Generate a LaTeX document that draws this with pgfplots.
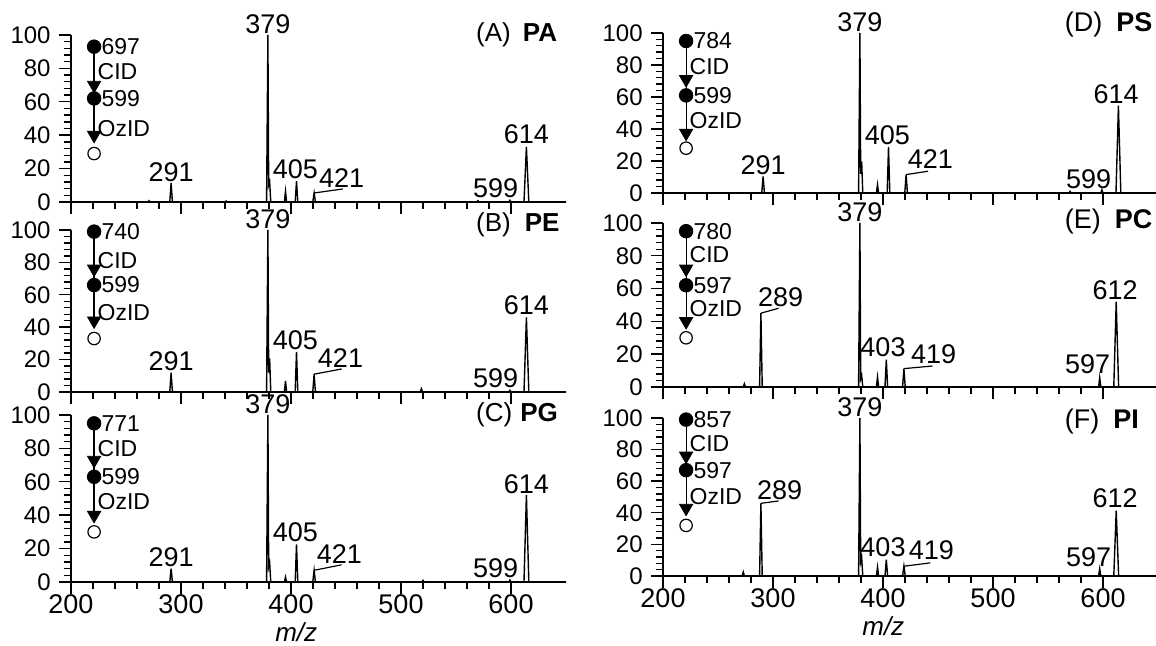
\documentclass[border=0pt]{standalone}
\usepackage{fontspec}
\setmainfont{Liberation Sans}
\usepackage{pgfplots}
\pgfplotsset{compat=1.18}
\tikzset{
  lab/.style={font=\fontsize{13.5}{14}\selectfont, inner sep=0.5pt, anchor=south},
  ann/.style={font=\fontsize{11.5}{12}\selectfont, inner sep=0.5pt, anchor=west},
  plab/.style={font=\fontsize{13}{14}\selectfont, inner sep=0pt, anchor=west},
}
\pgfplotsset{
  spec/.style={
    scale only axis, anchor=south west, x=0.55pt,
    xmin=200, xmax=650, ymin=0, ymax=100,
    axis x line*=bottom, axis y line*=left, clip=false,
    xtick={200,300,400,500,600}, ytick={0,20,40,60,80,100},
    minor x tick num=4, minor y tick num=4,
    tick align=outside, major tick length=6pt, minor tick length=3.5pt,
    tick style={black, line width=0.7pt},
    axis line style={black, line width=1pt},
    yticklabel style={font=\fontsize{12}{13}\selectfont, inner sep=1pt, xshift=-3pt},
    xticklabel style={font=\fontsize{13.5}{14}\selectfont, inner sep=0pt},
    /pgf/number format/assume math mode=true,
    xlabel style={font=\fontsize{13}{14}\selectfont\itshape, inner sep=0pt, anchor=north},
  },
  peak/.style={black, line width=0.7pt, mark=none},
  thinl/.style={black, line width=0.6pt, mark=none},
}
\newcommand{\scheme}[9]{%
  \addplot[thinl] coordinates {(221,#1)(221,#4)};
  \addplot[only marks, mark=*, mark size=3.4pt, black] coordinates {(221,#1)(221,#3)};
  \addplot[only marks, mark=triangle*, mark size=3.8pt, black, mark options={rotate=180}] coordinates {(221,#2)(221,#4)};
  \addplot[only marks, mark=o, mark size=3.1pt, black, mark options={fill=white, line width=0.6pt}] coordinates {(221,#5)};
  \node[ann] at (axis cs:226.5,#1) {#8};
  \node[ann] at (axis cs:223,#6) {CID};
  \node[ann] at (axis cs:226.5,#3) {#9};
  \node[ann] at (axis cs:223,#7) {OzID};
}
\begin{document}
\begin{tikzpicture}
\useasboundingbox (0,0) rectangle (578pt,323pt);
% ---------------- (A) PA
\begin{axis}[spec, at={(35.5pt,222pt)}, y=0.835pt, xticklabels={}]
\addplot[peak] coordinates {(200,0)(270,0)(271,0.8)(272,0)(289.8,0)(291,11.4)(292.2,0)(340,0)(341,0.6)(342,0)(377.8,0)(379,100)(379.7,10)(380.6,12)(381.6,0)(394,0)(395,6.4)(396,0)(403.8,0)(405,12.4)(406.2,0)(419.8,0)(421,5.4)(422.2,0)(569,0)(570,0.8)(571,0)(598,0)(599,1)(600,0)(611.8,0)(614,33)(616.2,0)(650,0)};
\addplot[thinl] coordinates {(421,5.4)(447,7.8)};
\scheme{93}{70}{62}{40}{29}{78}{44}{697}{599}
\node[lab] at (axis cs:379,100) {379};
\node[lab] at (axis cs:291,11.4) {291};
\node[lab] at (axis cs:404,13) {405};
\node[lab] at (axis cs:446,7.6) {421};
\node[lab] at (axis cs:586,1.5) {599};
\node[lab] at (axis cs:614,34) {614};
\node[plab] at (axis cs:568,100) {(A)\hspace{6pt}\textbf{PA}};
\end{axis}
% ---------------- (B) PE
\begin{axis}[spec, at={(35.5pt,127pt)}, y=0.81pt, xticklabels={}]
\addplot[peak] coordinates {(200,0)(289.8,0)(291,12)(292.2,0)(377.8,0)(379,100)(379.7,12)(380.6,20.7)(381.6,0)(394,0)(395,6.8)(396,0)(403.8,0)(405,24.8)(406.2,0)(419.8,0)(421,11)(422.2,0)(517.5,0)(518.5,2)(519.5,0)(598,0)(599,1)(600,0)(611.8,0)(614,46)(616.2,0)(650,0)};
\addplot[thinl] coordinates {(421,11)(446,14.2)};
\scheme{99}{76}{66}{44}{33}{81}{49}{740}{599}
\node[lab] at (axis cs:379,100) {379};
\node[lab] at (axis cs:291,12) {291};
\node[lab] at (axis cs:404,25) {405};
\node[lab] at (axis cs:445,14) {421};
\node[lab] at (axis cs:586,1.5) {599};
\node[lab] at (axis cs:614,46.5) {614};
\node[plab] at (axis cs:568,103) {(B)\hspace{7pt}\textbf{PE}};
\end{axis}
% ---------------- (C) PG
\begin{axis}[spec, at={(35.5pt,32pt)}, y=0.835pt, xlabel={m/z},
  xlabel style={at={(axis description cs:0.455,0)}, yshift=-20pt}]
\addplot[peak] coordinates {(200,0)(289.8,0)(291,8)(292.2,0)(377.8,0)(379,100)(379.7,9)(380.6,11.5)(381.6,0)(394,0)(395,3)(396,0)(403.8,0)(405,22.5)(406.2,0)(419.8,0)(421,7)(422.2,0)(519,0)(520,1)(521,0)(598,0)(599,1.2)(600,0)(611.8,0)(614,52)(616.2,0)(650,0)};
\addplot[thinl] coordinates {(421,7)(446,10.3)};
\scheme{95}{73}{63}{40}{30}{80}{48}{771}{599}
\node[lab] at (axis cs:379,100) {379};
\node[lab] at (axis cs:291,8) {291};
\node[lab] at (axis cs:404,23) {405};
\node[lab] at (axis cs:444,10.2) {421};
\node[lab] at (axis cs:586,1.5) {599};
\node[lab] at (axis cs:614,52) {614};
\node[plab] at (axis cs:568,100) {(C)\hspace{4pt}\textbf{PG}};
\end{axis}
% ---------------- (D) PS
\begin{axis}[spec, at={(331.5pt,226.5pt)}, y=0.80pt, xticklabels={}]
\addplot[peak] coordinates {(200,0)(289.8,0)(291,10.4)(292.2,0)(377.8,0)(379,100)(379.7,12)(380.6,19.8)(381.6,0)(394,0)(395,5.2)(396,0)(403.8,0)(405,28.8)(406.2,0)(419.8,0)(421,11.5)(422.2,0)(569,0)(570,1)(571,0)(598,0)(599,2)(600,0)(611.8,0)(614,54.6)(616.2,0)(650,0)};
\addplot[thinl] coordinates {(421,11.5)(441,13.6)};
\scheme{95}{71}{61}{37.5}{28}{79}{45}{784}{599}
\node[lab] at (axis cs:379,100) {379};
\node[lab] at (axis cs:291,10.4) {291};
\node[lab] at (axis cs:404,29.5) {405};
\node[lab] at (axis cs:443,14.5) {421};
\node[lab] at (axis cs:587,1.5) {599};
\node[lab] at (axis cs:612,55) {614};
\node[plab, font=\fontsize{13.5}{14}\selectfont] at (axis cs:565,105) {(D)\hspace{7pt}\textbf{PS}};
\end{axis}
% ---------------- (E) PC
\begin{axis}[spec, at={(331.5pt,129.5pt)}, y=0.82pt, xticklabels={}]
\addplot[peak] coordinates {(200,0)(273,0)(274,2)(275,0)(287.8,0)(289,45)(290.2,0)(377.8,0)(379,100)(379.7,5)(380.6,7)(381.6,0)(394,0)(395,6)(396,0)(401.8,0)(403,16.7)(404.2,0)(417.8,0)(419,11.2)(420.2,0)(596,0)(597,5.7)(598,0)(609.8,0)(612,52)(614.2,0)(650,0)};
\addplot[thinl] coordinates {(289,45)(305,48)};
\addplot[thinl] coordinates {(419,11.2)(445,12.8)};
\scheme{95}{72}{62}{40}{30}{80.5}{48}{780}{597}
\node[lab] at (axis cs:379,100) {379};
\node[lab] at (axis cs:307,48) {289};
\node[lab] at (axis cs:400,17.5) {403};
\node[lab] at (axis cs:446,13.5) {419};
\node[lab] at (axis cs:586,7.5) {597};
\node[lab] at (axis cs:611,52.5) {612};
\node[plab, font=\fontsize{13.5}{14}\selectfont] at (axis cs:565,101) {(E)\hspace{7pt}\textbf{PC}};
\end{axis}
% ---------------- (F) PI
\begin{axis}[spec, at={(331.5pt,35pt)}, y=0.79pt, xlabel={m/z},
  xlabel style={at={(axis description cs:0.445,0)}, yshift=-20pt}]
\addplot[peak] coordinates {(200,0)(272,0)(273,2.5)(274,0)(287.8,0)(289,46)(290.2,0)(377.8,0)(379,100)(379.7,9)(380.6,11.8)(381.6,0)(394,0)(395,5.6)(396,0)(401.8,0)(403,10.4)(404.2,0)(417.8,0)(419,6.2)(420.2,0)(596,0)(597,4.6)(598,0)(609.8,0)(612,41.3)(614.2,0)(650,0)};
\addplot[thinl] coordinates {(289,46)(305,47.5)};
\addplot[thinl] coordinates {(419,6.2)(443,8.3)};
\scheme{99}{76}{67}{43}{32}{84}{50}{857}{597}
\node[lab] at (axis cs:379,100) {379};
\node[lab] at (axis cs:306,47.5) {289};
\node[lab] at (axis cs:400,11.5) {403};
\node[lab] at (axis cs:444,9.5) {419};
\node[lab] at (axis cs:587,5) {597};
\node[lab] at (axis cs:611,42) {612};
\node[plab, font=\fontsize{13.5}{14}\selectfont] at (axis cs:565,98) {(F)\hspace{7pt}\textbf{PI}};
\end{axis}
\end{tikzpicture}
\end{document}
